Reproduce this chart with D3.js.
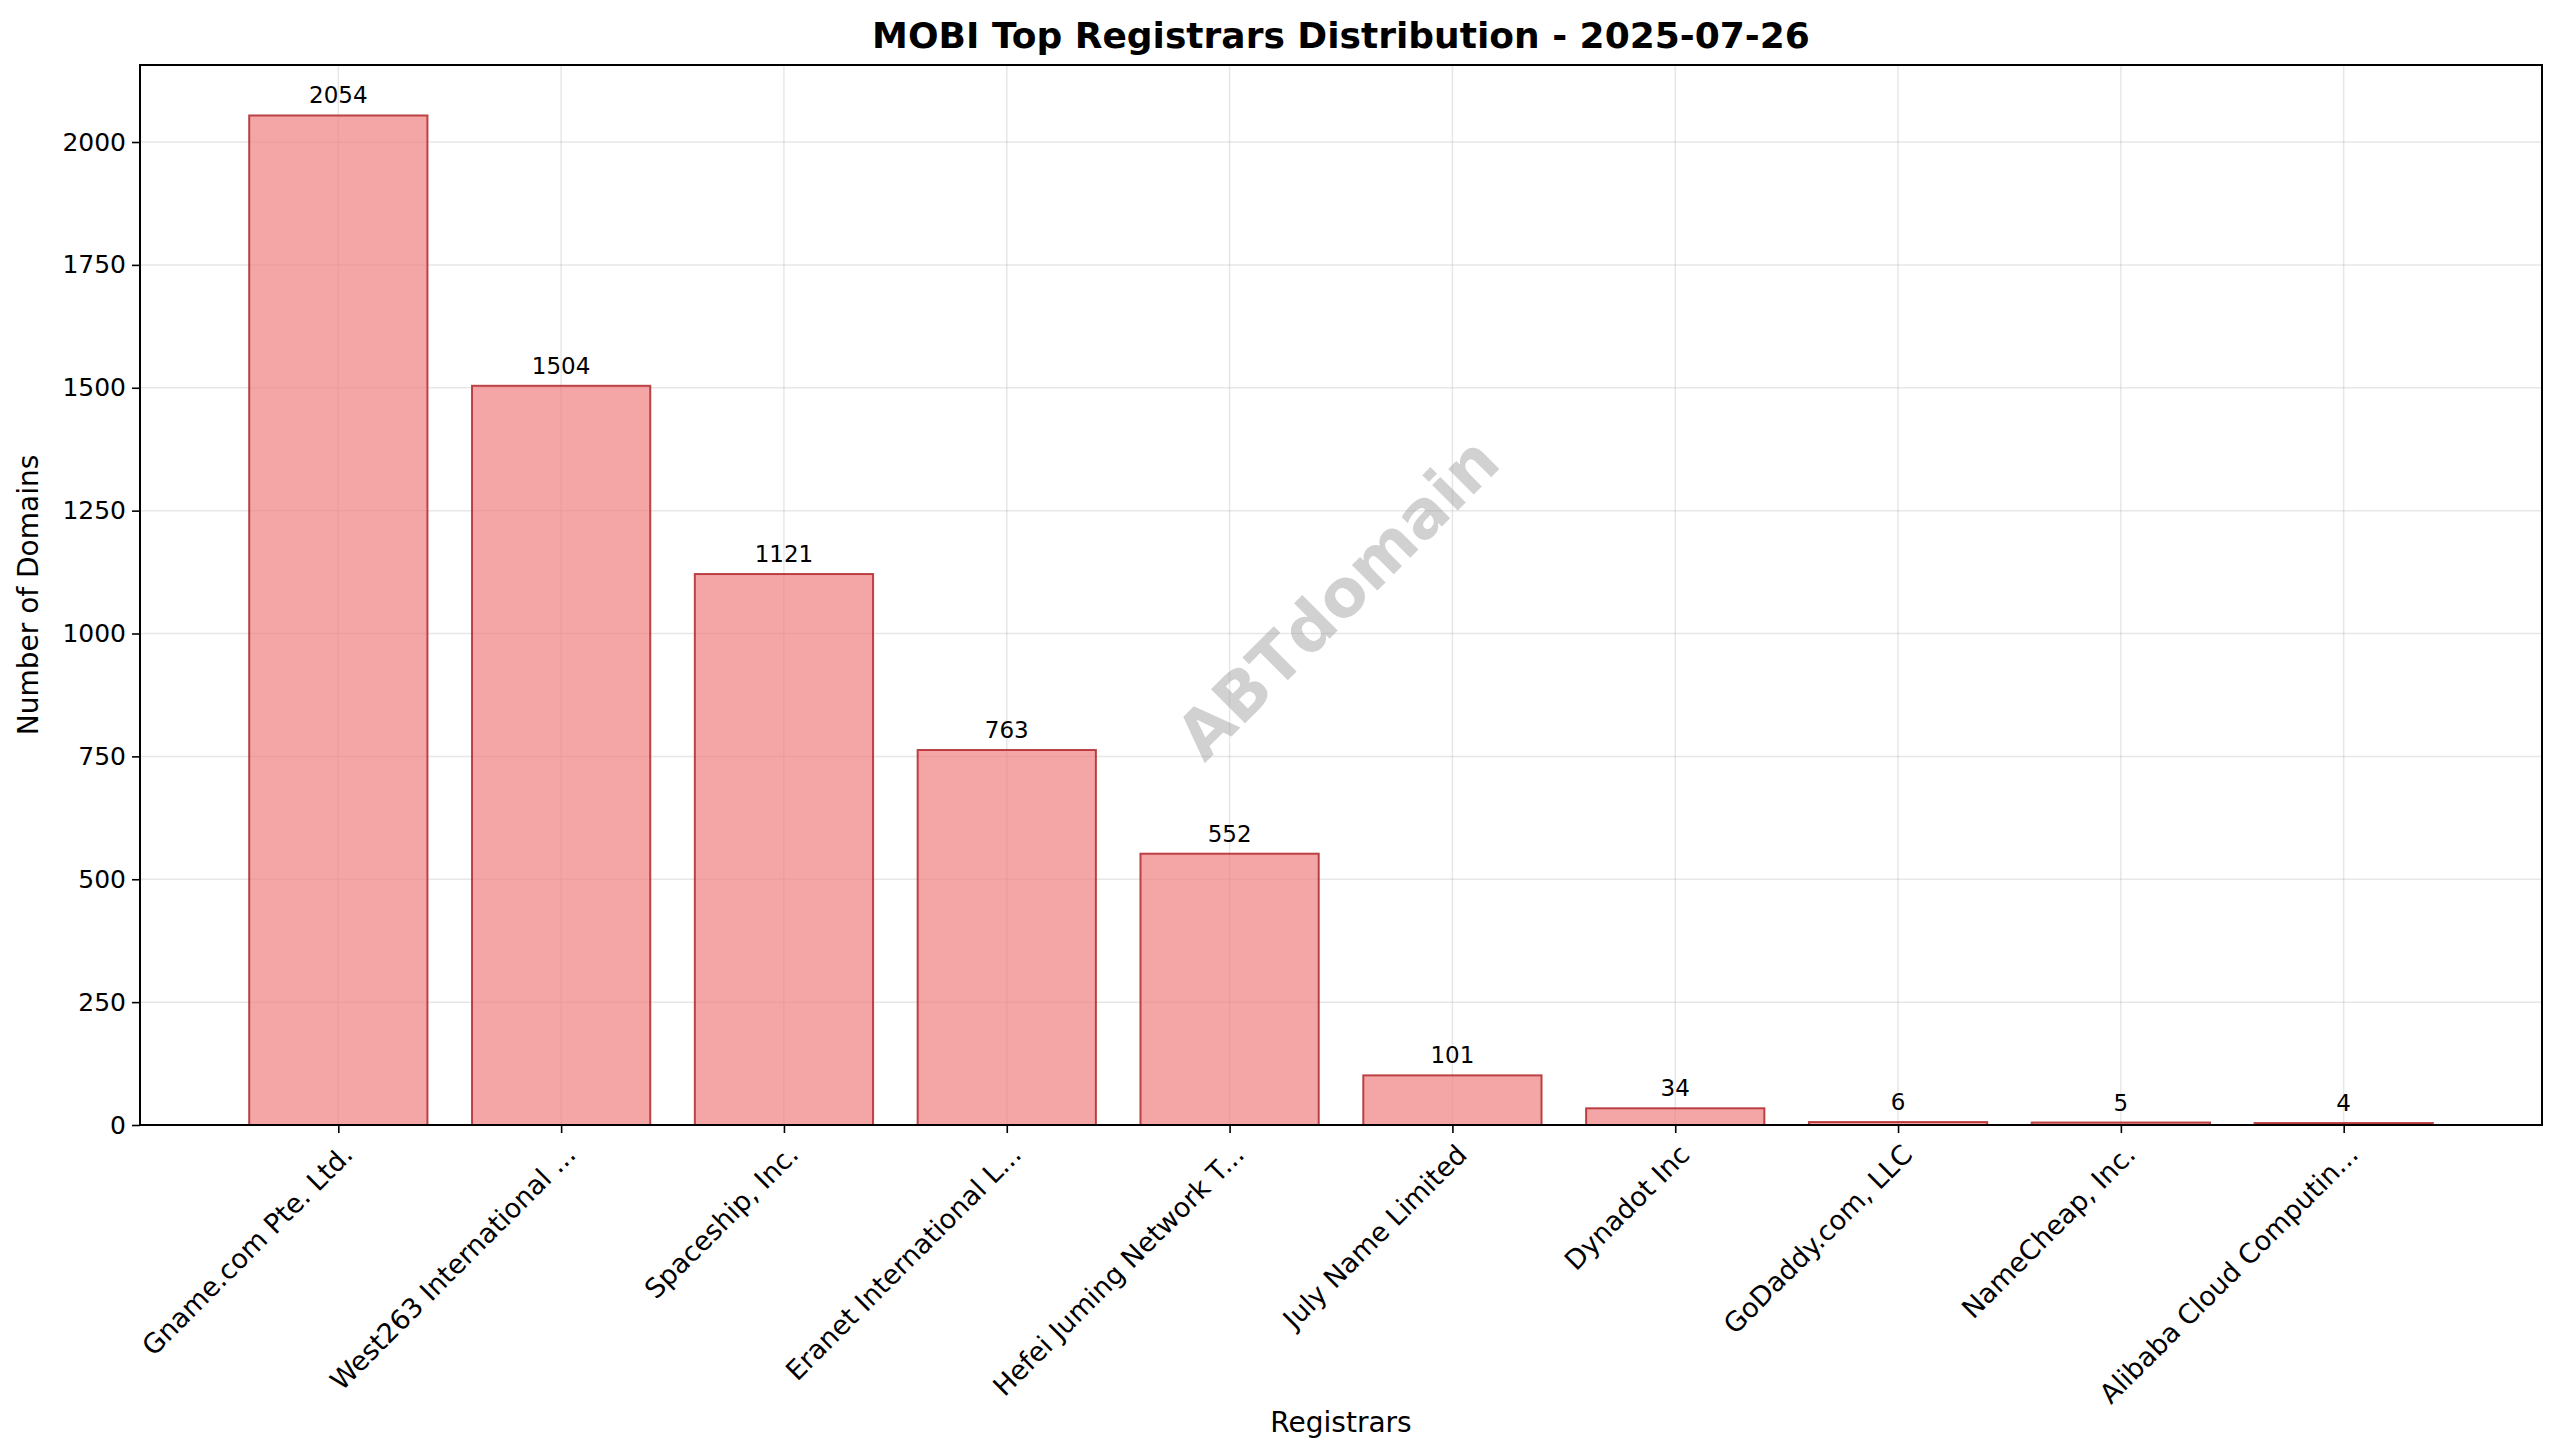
<!DOCTYPE html>
<html>
<head>
<meta charset="utf-8">
<script src="https://cdn.jsdelivr.net/npm/d3@7"></script>
<style>
  body { margin: 0; background: #fff; }
  text { font-family: "DejaVu Sans", sans-serif; fill: #000; }
</style>
</head>
<body>
<div id="chart"></div>
<script>
const registrars = ["Gname.com Pte. Ltd.", "West263 International ...", "Spaceship, Inc.", "Eranet International L...",
  "Hefei Juming Network T...", "July Name Limited", "Dynadot Inc", "GoDaddy.com, LLC", "NameCheap, Inc.", "Alibaba Cloud Computin..."];
const counts = [2054, 1504, 1121, 763, 552, 101, 34, 6, 5, 4];
const yTicks = [0, 250, 500, 750, 1000, 1250, 1500, 1750, 2000];

const W = 2560, H = 1455;
const margin = { top: 65, right: 18, bottom: 330, left: 140 };
const width = W - margin.left - margin.right;
const height = H - margin.top - margin.bottom;

const svg = d3.select("#chart").append("svg").attr("width", W).attr("height", H);
const g = svg.append("g").attr("transform", `translate(${margin.left},${margin.top})`);

// matplotlib-like: bar width 0.8, 5% margins
const n = registrars.length;
const span = (n - 1) + 0.8;
const x = d3.scaleLinear().domain([-0.4 - span * 0.05, n - 1 + 0.4 + span * 0.05]).range([0, width]);
const y = d3.scaleLinear().domain([0, d3.max(counts) * 1.05]).range([height, 0]);

// grid
g.append("g").selectAll("line").data(yTicks).enter().append("line")
  .attr("x1", 0).attr("x2", width).attr("y1", d => y(d)).attr("y2", d => y(d))
  .attr("stroke", "#b0b0b0").attr("stroke-opacity", 0.3).attr("stroke-width", 1.5);
g.append("g").selectAll("line").data(d3.range(n)).enter().append("line")
  .attr("y1", 0).attr("y2", height).attr("x1", d => x(d)).attr("x2", d => x(d))
  .attr("stroke", "#b0b0b0").attr("stroke-opacity", 0.3).attr("stroke-width", 1.5);

// bars
g.selectAll(".bar").data(counts).enter().append("rect")
  .attr("x", (d, i) => x(i - 0.4)).attr("width", x(0.8) - x(0))
  .attr("y", d => y(d)).attr("height", d => y(0) - y(d))
  .attr("fill", "#f08080").attr("fill-opacity", 0.7)
  .attr("stroke", "#b0282c").attr("stroke-opacity", 0.85).attr("stroke-width", 2);

// value labels
g.selectAll(".val").data(counts).enter().append("text")
  .attr("x", (d, i) => x(i)).attr("y", d => y(d) - 12)
  .attr("text-anchor", "middle").style("font-size", "23px").text(d => d);

// watermark
g.append("text").attr("transform", `translate(${x(4.5)},${y(1065)}) rotate(-45)`)
  .attr("text-anchor", "middle").attr("dominant-baseline", "middle")
  .style("font-size", "66px").attr("font-weight", "bold").style("fill", "#999").style("fill-opacity", 0.45)
  .text("ABTdomain");

// axes
const yAxis = d3.axisLeft(y).tickValues(yTicks).tickFormat(d3.format("d")).tickSize(8).tickPadding(6);
const gy = g.append("g").call(yAxis);
gy.selectAll("text").style("font-size", "25px");
gy.select(".domain").remove();

const xAxis = d3.axisBottom(x).tickValues(d3.range(n)).tickFormat(i => registrars[i]).tickSize(8).tickPadding(6);
const gx = g.append("g").attr("transform", `translate(0,${height})`).call(xAxis);
gx.select(".domain").remove();
gx.selectAll("text").style("font-size", "27px").attr("text-anchor", "end")
  .attr("transform", "translate(0,8) rotate(-45)").attr("dy", "0.5em").attr("dx", "-0.2em");
gx.selectAll("line, path").attr("stroke-width", 1.6);
gy.selectAll("line").attr("stroke-width", 1.6);

g.append("rect").attr("width", width).attr("height", height)
  .attr("fill", "none").attr("stroke", "#000").attr("stroke-width", 2);

// titles
svg.append("text").attr("x", margin.left + width / 2).attr("y", 48)
  .attr("text-anchor", "middle").style("font-size", "36px").attr("font-weight", "bold")
  .text("MOBI Top Registrars Distribution - 2025-07-26");
svg.append("text").attr("x", margin.left + width / 2).attr("y", 1432)
  .attr("text-anchor", "middle").style("font-size", "28px").text("Registrars");
svg.append("text").attr("transform", `translate(38,${margin.top + height / 2}) rotate(-90)`)
  .attr("text-anchor", "middle").style("font-size", "28px").text("Number of Domains");
</script>
</body>
</html>
